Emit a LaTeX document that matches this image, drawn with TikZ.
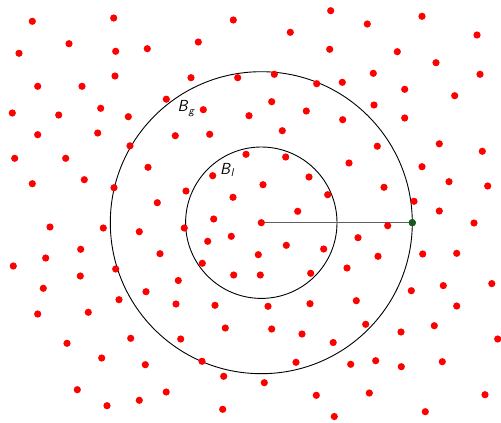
\documentclass[tikz,border=0pt]{standalone}
\usepackage{amsmath}
\definecolor{dotred}{RGB}{255,0,0}
\definecolor{dotgreen}{RGB}{20,90,30}
\definecolor{radgray}{RGB}{95,95,95}
\tikzset{
  pt/.style={fill=dotred},
  ring/.style={draw=black, line width=0.9pt},
  radius line/.style={draw=radgray, line width=1.5pt},
  lbl/.style={font=\fontsize{16}{19}\selectfont, inner sep=0pt}
}
\begin{document}
\begin{tikzpicture}[x=1pt,y=-1pt]
\useasboundingbox (0,0) rectangle (501,423);
\coordinate (c) at (261.3,222.7);
\node[circle, fill=dotgreen, minimum size=7.2pt, inner sep=0pt] (g) at (412.3,222.7) {};
\draw[ring] (c) circle (151);
\draw[ring] (c) circle (75.7);
\draw[radius line] (c) -- (g.center);
\node[circle, fill=dotgreen, minimum size=7.2pt, inner sep=0pt] at (g) {};
\foreach \x/\y in {
32.3/21.3,113.7/18,69/43.7,19/53.3,115.7/51.3,147.3/48.7,37.7/86.3,82/86.3,115/76,166.3/99.2,12.3/113,58.7/115,100.7/108.3,128.3/116.7,37.7/134.7,97.7/133,130/145.8,
233.3/20,330.7/10.7,290.3/32.3,198.3/42,329.7/49.3,191/77.7,237.7/77.7,274.3/74.3,316.7/83.7,203.3/109.7,271.7/101.7,249/115.7,306.3/111,282.3/130.7,175.3/135.7,209.7/134.3,
422/16.3,367.3/24,477/35,397.3/51.7,436/62.7,373.3/73.3,342.3/82.3,480/74.3,404.7/89.3,454.7/95.7,374/105,342.7/119.7,404.7/118,377.3/146.2,439.3/143.8,
14.7/158.3,65.7/158.3,148/167.3,32.3/183.7,84.3/179.7,114/187.7,157.3/202.7,50/227,103.3/228,139.3/231.7,160/253.7,80.7/249.3,45.7/258,13.3/266,115.7/269,80.3/276,
246/154.3,285.7/157,212.7/175.7,309/177,186/191,263/184.7,327.7/194.7,233/197.3,297.7/211.3,213.7/219,184.3/228,261.3/222.7,231.3/236.3,207.7/241.3,286.3/245.3,323.7/249,258.3/254.7,202.3/263.3,178.3/280.5,233.7/275,260.3/275,310.7/273.3,
482.3/151.3,349/163,422/166.7,449/181.7,384/187.3,487.7/186,414/201.3,439.3/211,387.7/225.7,474/223,358/237.7,378/256.3,422.7/254,456.7/253.3,347/268,443.3/285.6,491.8/283.6,
43.3/288.3,37.7/314,88.3/312.3,119/299.7,146/291.7,67/343.3,130.7/338.3,101.7/358,145.3/364.7,77.3/389.7,107/405.7,139.3/400.3,166.2/392,
176/304,215/305.3,268/306.3,310/303.7,225.3/328,271.7/329,302/334,333.2/342.5,180.7/339,202/361.3,296/362.3,223.7/376.3,264.3/382.7,222.7/409.3,316.3/395.3,334.3/416.5,
411.3/290.7,356.3/300.7,456.7/306,365.7/324.3,401/332,434.3/325.7,497.7/339,350.7/364.3,375.7/360.7,401.3/366.7,442.3/361.7,369.3/393,485/394.7,425.3/411.7}
  \fill[pt] (\x,\y) circle (3.6);
\node[lbl] (Bg) at (186.5,108.5) {$\textsf{\textit{B}}_{\textsf{\textit{g}}}$};
\node[lbl] (Bl) at (227.5,170) {$\textsf{\textit{B}}_{\textsf{\textit{l}}}$};
\end{tikzpicture}
\end{document}
